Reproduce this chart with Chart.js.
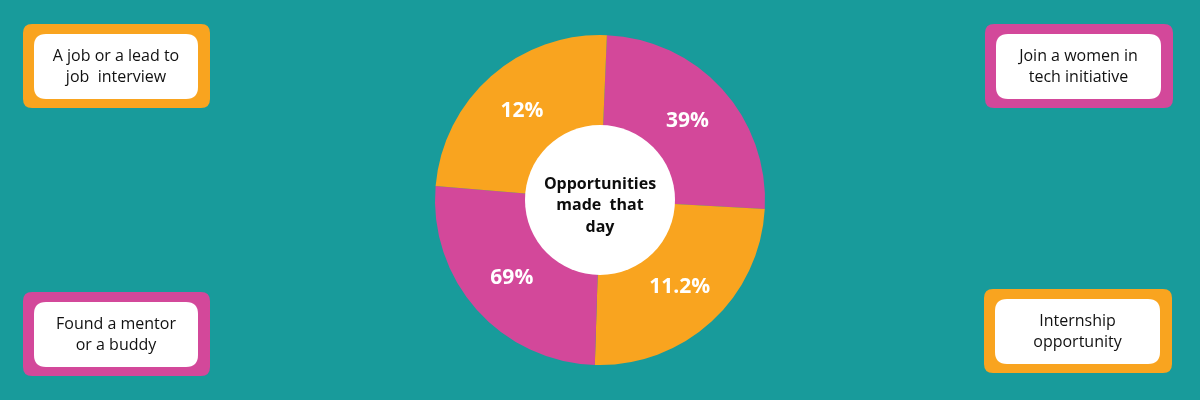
<!DOCTYPE html>
<html>
<head>
<meta charset="utf-8">
<script src="https://cdn.jsdelivr.net/npm/chart.js@4.4.0/dist/chart.umd.min.js"></script>
<style>
  html, body { margin: 0; padding: 0; background: #189b9b; }
  #wrap { width: 1200px; height: 400px; position: relative; }
</style>
</head>
<body>
<div id="wrap"><canvas id="c" width="1200" height="400"></canvas></div>
<script>
// Categories, clockwise from the top
const categories = [
  ["Join a women in", "tech initiative"],
  ["Internship", "opportunity"],
  ["Found a mentor", "or a buddy"],
  ["A job or a lead to", "job  interview"]
];
// Slice sizes (degrees of arc)
const sliceSizes = [90.7, 88.7, 93.1, 87.5];
// Percentage labels printed in the slices
const valueLabels = ["39%", "11.2%", "69%", "12%"];
const sliceColors = ["#d3489a", "#f9a41f", "#d3489a", "#f9a41f"];
const centerTitle = ["Opportunities", "made  that", "day"];

const FONT = "'Open Sans', 'DejaVu Sans', sans-serif";

// legend box placements (outer rect) in order of categories
const boxes = [
  { x: 985, y: 24, w: 188, h: 84 },
  { x: 984, y: 289, w: 188, h: 84 },
  { x: 23, y: 292, w: 187, h: 84 },
  { x: 23, y: 24, w: 187, h: 84 }
];

function roundRect(ctx, x, y, w, h, r) {
  ctx.beginPath();
  ctx.moveTo(x + r, y);
  ctx.lineTo(x + w - r, y);
  ctx.quadraticCurveTo(x + w, y, x + w, y + r);
  ctx.lineTo(x + w, y + h - r);
  ctx.quadraticCurveTo(x + w, y + h, x + w - r, y + h);
  ctx.lineTo(x + r, y + h);
  ctx.quadraticCurveTo(x, y + h, x, y + h - r);
  ctx.lineTo(x, y + r);
  ctx.quadraticCurveTo(x, y, x + r, y);
  ctx.closePath();
}

const overlay = {
  id: 'overlay',
  afterDatasetsDraw(chart) {
    const ctx = chart.ctx;
    const meta = chart.getDatasetMeta(0);
    const arc0 = meta.data[0];
    const cx = arc0.x, cy = arc0.y;
    // white centre disc
    ctx.save();
    ctx.fillStyle = '#ffffff';
    ctx.beginPath();
    ctx.arc(cx, cy, 75, 0, Math.PI * 2);
    ctx.fill();
    // centre title
    ctx.fillStyle = '#0d0d0d';
    ctx.font = "bold 16px " + FONT;
    ctx.textAlign = 'center';
    ctx.textBaseline = 'middle';
    centerTitle.forEach((t, i) => ctx.fillText(t, cx, cy - 16 + i * 21.5));
    // value labels
    ctx.fillStyle = '#ffffff';
    ctx.font = "bold 21px " + FONT;
    meta.data.forEach((arc, i) => {
      const p = arc.tooltipPosition();
      const dx = p.x - cx, dy = p.y - cy;
      const k = 118 / Math.hypot(dx, dy);
      ctx.fillText(valueLabels[i], cx + dx * k, cy + dy * k);
    });
    // legend boxes
    categories.forEach((lines, i) => {
      const b = boxes[i];
      ctx.fillStyle = sliceColors[i];
      roundRect(ctx, b.x, b.y, b.w, b.h, 9);
      ctx.fill();
      ctx.fillStyle = '#ffffff';
      roundRect(ctx, b.x + 11, b.y + 10, b.w - 23, b.h - 19, 12);
      ctx.fill();
      ctx.fillStyle = '#111111';
      ctx.font = "16px " + FONT;
      const mx = b.x + 11 + (b.w - 23) / 2;
      const my = b.y + 10 + (b.h - 19) / 2;
      ctx.fillText(lines[0], mx, my - 10.5);
      ctx.fillText(lines[1], mx, my + 10.5);
    });
    ctx.restore();
  }
};

new Chart(document.getElementById('c'), {
  type: 'doughnut',
  data: {
    labels: categories.map(l => l.join(' ')),
    datasets: [{
      data: sliceSizes,
      backgroundColor: sliceColors,
      borderWidth: 0,
      hoverOffset: 0
    }]
  },
  options: {
    responsive: false,
    animation: false,
    rotation: 2.4,
    cutout: '40%',
    layout: { padding: { top: 35, bottom: 35 } },
    plugins: {
      legend: { display: false },
      tooltip: { enabled: false }
    }
  },
  plugins: [overlay]
});
</script>
</body>
</html>
